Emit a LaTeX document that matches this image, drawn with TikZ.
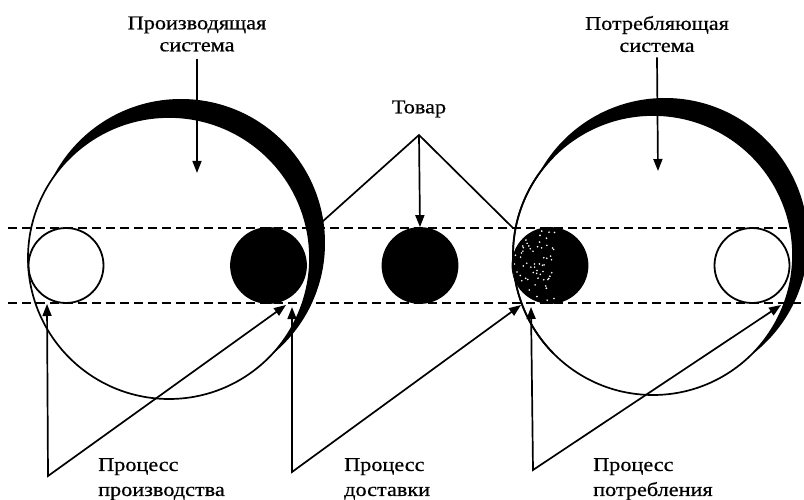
\documentclass[tikz,border=0pt]{standalone}
\usepackage{fontspec}
\setmainfont{Liberation Serif}[FakeStretch=1.14, FakeBold=0.6]
\usetikzlibrary{arrows.meta}

\begin{document}
\begin{tikzpicture}[x=1pt, y=-1pt,
  lbl/.style={font=\fontsize{19.5}{22}\selectfont, align=center, inner sep=1pt},
  sublbl/.style={font=\fontsize{19.5}{25}\selectfont, align=left, inner sep=1pt, anchor=north west},
  ball/.style={circle, draw, line width=1.8pt, minimum size=75pt, inner sep=0pt},
  rim/.style={line width=1.7pt},
  arrow/.style={-{Triangle[length=12pt, width=9pt]}, line width=1.7pt},
  both/.style={{Triangle[length=12pt, width=9pt]}-{Triangle[length=12pt, width=9pt]}, line width=1.7pt},
  edge/.style={line width=1.7pt},
  guide/.style={dash pattern=on 9pt off 5pt, line width=2.2pt}
]
\useasboundingbox (0,0) rectangle (804,500);

% producing and consuming systems (crescent = outer disc minus inner disc)
\fill (181,243) circle (144pt);
\filldraw[fill=white, rim] (169,258) circle (141pt);
\fill (665,241) circle (143pt);
\filldraw[fill=white, rim] (653,255) circle (140pt);

% goods inside the systems and between them
\node[ball] (input) at (66,265.5) {};
\node[ball, fill=black] (made) at (268.5,265.5) {};
\node[ball, fill=black] (goodsball) at (420,265.5) {};
\node[ball, fill=black] (used) at (550,265.5) {};
\node[ball] (waste) at (752,265.5) {};

% stipple on the consumed goods
\begin{scope}
  \clip (550,265.5) circle (37.5pt);
  \pgfmathsetseed{11}
  \foreach \i in {1,...,70} {
    \fill[white] ({513+42*rnd},{229+73*rnd}) circle (0.9pt);
  }
\end{scope}
\draw[rim] (653,255) ++(180:140pt) arc[start angle=180, end angle=225, radius=140pt];
\draw[rim] (653,255) ++(180:140pt) arc[start angle=180, end angle=135, radius=140pt];

% the band of the flow
\draw[guide] (8,228) -- (804,228);
\draw[guide] (8,303) -- (804,303);

% labels
\node[lbl] (prodsys) at (197,34) {Производящая\\система};
\node[lbl] (conssys) at (657,34) {Потребляющая\\система};
\node[lbl] (goods) at (419,109) {Товар};
\node[sublbl] (prodproc) at (97,457) {Процесс\\производства};
\node[sublbl] (delproc) at (343,457) {Процесс\\доставки};
\node[sublbl] (consproc) at (592,457) {Процесс\\потребления};

\coordinate (prodtip) at (197,173);
\coordinate (constip) at (658,171);
\coordinate (apex) at (419,135);
\coordinate (prodrim) at (322,222);
\coordinate (consrim) at (513,228);
\coordinate (v1) at (48,476);
\coordinate (v2) at (292,472);
\coordinate (v3) at (533,470);
\coordinate (t1) at (47,304);
\coordinate (t1d) at (286,305);
\coordinate (t2) at (292,307);
\coordinate (t2d) at (521,305);
\coordinate (t3) at (531,307);
\coordinate (t3d) at (781,305);

% connectors
\draw[arrow] (prodsys.south) ++(0,6) -- (prodtip);
\draw[arrow] (conssys.south) ++(0,4) -- (constip);
\draw[arrow] (apex) -- (goodsball.north);
\draw[edge] (prodrim) -- (apex) -- (consrim);
\draw[both] (t1) -- (v1) -- (t1d);
\draw[both] (t2) -- (v2) -- (t2d);
\draw[both] (t3) -- (v3) -- (t3d);
\end{tikzpicture}
\end{document}
